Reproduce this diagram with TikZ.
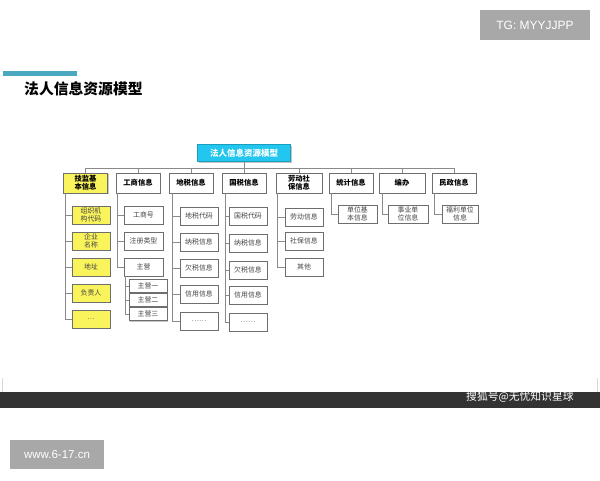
\documentclass[tikz,border=0pt]{standalone}
\usepackage{fontspec}
\setmainfont{Noto Sans CJK SC}
\newfontfamily\wmfont{Liberation Sans}
\usetikzlibrary{shadows}
\definecolor{lineg}{HTML}{8A8A8A}
\definecolor{boxg}{HTML}{6E6E6E}
\definecolor{yel}{HTML}{FAF45C}
\definecolor{rootc}{HTML}{22C6EE}
\definecolor{tealbar}{HTML}{4AA8C0}
\definecolor{wmgray}{HTML}{A8A8A8}
\definecolor{darkbar}{HTML}{333333}
\definecolor{txtg}{HTML}{444444}
\tikzset{
  box/.style={draw=boxg, line width=0.6pt, fill=white, inner sep=0pt, align=center,
    drop shadow={shadow xshift=1.2pt, shadow yshift=-1.2pt, opacity=0.45}},
  topbox/.style={box, minimum width=44pt, minimum height=20pt,
    font=\bfseries\fontsize{7.3}{8}\selectfont},
  childbox/.style={box, minimum width=38pt, minimum height=18pt, text=txtg,
    font=\fontsize{6.9}{7.8}\selectfont},
  subbox/.style={box, minimum width=38pt, minimum height=13pt, text=txtg,
    font=\fontsize{6.9}{7.8}\selectfont},
  yelbox/.style={fill=yel},
  conn/.style={draw=lineg, line width=0.7pt},
  wmbox/.style={fill=wmgray, text=white, inner sep=0pt}
}
\begin{document}
\begin{tikzpicture}[x=1pt,y=-1pt]
\useasboundingbox (0,0) rectangle (600,480);
\fill[white] (0,0) rectangle (600,480);

% watermark boxes and header
\node[wmbox, minimum width=110pt, minimum height=30pt, font=\wmfont\fontsize{12}{14}\selectfont] (tg) at (535,25) {TG: MYYJJPP};
\fill[tealbar] (3,71) rectangle (77,76);
\node[font=\bfseries\fontsize{14.8}{16}\selectfont, anchor=west, inner sep=0pt] (title) at (24,89) {法人信息资源模型};

% bottom bar
\draw[gray!30, line width=0.6pt] (2,378) -- (2,392) (597,378) -- (597,392);
\fill[darkbar] (0,392) rectangle (600,408);
\node[text=white, font=\fontsize{10.8}{12}\selectfont, anchor=west, inner sep=0pt] (sohu) at (466,397) {搜狐号@无忧知识星球};
\node[wmbox, minimum width=94pt, minimum height=29pt, font=\wmfont\fontsize{11.5}{13}\selectfont] (www) at (57,454.5) {www.6-17.cn};

% root
\node[box, fill=rootc, draw=rootc!80!black, text=white, minimum width=93pt, minimum height=17pt,
  font=\bfseries\fontsize{8.5}{9}\selectfont] (root) at (244,153) {法人信息资源模型};

% top level
\node[topbox, yelbox] (t1) at (85.5,183) {技监基\\本信息};
\node[topbox] (t2) at (138,183) {工商信息};
\node[topbox] (t3) at (191,183) {地税信息};
\node[topbox] (t4) at (244,183) {国税信息};
\node[topbox, minimum width=46pt] (t5) at (299,183) {劳动社\\保信息};
\node[topbox] (t6) at (351,183) {统计信息};
\node[topbox, minimum width=46pt] (t7) at (402,183) {编办};
\node[topbox] (t8) at (454,183) {民政信息};

\coordinate (busL) at (85.5,168);
\coordinate (busR) at (454,168);
\draw[conn] (busL) -- (busR);
\draw[conn] (root.south) -- (root.south |- busL);
\foreach \t in {t1,t2,t3,t4,t5,t6,t7,t8}{
  \draw[conn] (\t.north) -- (\t.north |- busL);
}

% column 1
\node[childbox, yelbox] (a1) at (91,215) {组织机\\构代码};
\node[childbox, yelbox] (a2) at (91,241) {企业\\名称};
\node[childbox, yelbox] (a3) at (91,267) {地址};
\node[childbox, yelbox] (a4) at (91,293) {负责人};
\node[childbox, yelbox] (a5) at (91,319) {…};
\draw[conn] ([xshift=2pt]t1.south west) |- (a5.west);
\foreach \c in {a1,a2,a3,a4}{\draw[conn] ([xshift=2pt]t1.south west |- \c.west) -- (\c.west);}

% column 2
\node[childbox, minimum width=39pt] (b1) at (143.5,215) {工商号};
\node[childbox, minimum width=39pt] (b2) at (143.5,241) {注册类型};
\node[childbox, minimum width=39pt] (b3) at (143.5,267) {主营};
\draw[conn] ([xshift=2pt]t2.south west) |- (b3.west);
\foreach \c in {b1,b2}{\draw[conn] ([xshift=2pt]t2.south west |- \c.west) -- (\c.west);}
\node[subbox] (s1) at (148,286) {主营一};
\node[subbox] (s2) at (148,300) {主营二};
\node[subbox] (s3) at (148,314) {主营三};
\draw[conn] ([xshift=2pt]b3.south west) |- (s3.west);
\foreach \c in {s1,s2}{\draw[conn] ([xshift=2pt]b3.south west |- \c.west) -- (\c.west);}

% column 3
\node[childbox] (c1) at (199,216) {地税代码};
\node[childbox] (c2) at (199,242) {纳税信息};
\node[childbox] (c3) at (199,268) {欠税信息};
\node[childbox] (c4) at (199,294) {信用信息};
\node[childbox] (c5) at (199,321) {……};
\draw[conn] ([xshift=4pt]t3.south west) |- (c5.west);
\foreach \c in {c1,c2,c3,c4}{\draw[conn] ([xshift=4pt]t3.south west |- \c.west) -- (\c.west);}

% column 4
\node[childbox] (d1) at (248,216) {国税代码};
\node[childbox] (d2) at (248,243) {纳税信息};
\node[childbox] (d3) at (248,270) {欠税信息};
\node[childbox] (d4) at (248,295) {信用信息};
\node[childbox] (d5) at (248,322) {……};
\draw[conn] ([xshift=4pt]t4.south west) |- (d5.west);
\foreach \c in {d1,d2,d3,d4}{\draw[conn] ([xshift=4pt]t4.south west |- \c.west) -- (\c.west);}

% column 5
\node[childbox] (e1) at (304,217) {劳动信息};
\node[childbox] (e2) at (304,241) {社保信息};
\node[childbox] (e3) at (304,267) {其他};
\draw[conn] ([xshift=2pt]t5.south west) |- (e3.west);
\foreach \c in {e1,e2}{\draw[conn] ([xshift=2pt]t5.south west |- \c.west) -- (\c.west);}

% columns 6-8
\node[childbox, minimum width=39pt] (f1) at (357.5,214) {单位基\\本信息};
\draw[conn] ([xshift=3pt]t6.south west) |- (f1.west);
\node[childbox, minimum width=40pt] (g1) at (408,214) {事业单\\位信息};
\draw[conn] ([xshift=4pt]t7.south west) |- (g1.west);
\node[childbox, minimum width=36pt] (h1) at (460,214) {福利单位\\信息};
\draw[conn] ([xshift=3pt]t8.south west) |- (h1.west);
\end{tikzpicture}
\end{document}
